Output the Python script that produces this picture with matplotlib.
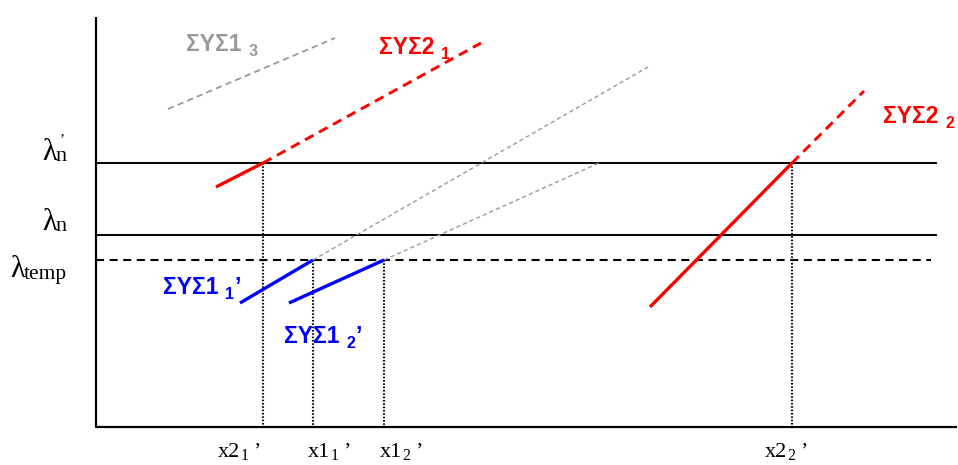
"""Schematic: ΣΥΣ1 / ΣΥΣ2 lines against λ thresholds (pixel-space diagram)."""

import matplotlib

matplotlib.use("Agg")
import matplotlib.pyplot as plt

plt.rcParams["lines.scale_dashes"] = False

# frame (pixel coordinates, y grows downward)
axis_x = [96, 96, 957]
axis_y = [17, 427, 427]

# horizontal threshold levels
lam_n_prime_y = 163
lam_n_y = 235
lam_temp_y = 260
level_x_end = [936, 936, 931]

# ΣΥΣ2_1: solid part then dashed continuation
sys2_1_x = [216, 263, 481]
sys2_1_y = [187, 163, 43]
# ΣΥΣ2_2
sys2_2_x = [650, 792, 864]
sys2_2_y = [307, 163, 91]
# ΣΥΣ1_3 (grey dashed)
sys1_3_x = [168, 335]
sys1_3_y = [109, 38]
# ΣΥΣ1_1' and ΣΥΣ1_2' (blue) with thin grey extensions
sys1_1_x = [240, 313, 648]
sys1_1_y = [303, 260, 67]
sys1_2_x = [289, 384, 599]
sys1_2_y = [303, 260, 163]

# dotted drop lines: x position and top y
drop_x = [263, 313, 384, 792]
drop_top = [163, 260, 260, 163]

# x-axis labels: main digit, subscript, left position
x_main = ["2", "1", "1", "2"]
x_sub = ["1", "1", "2", "2"]
x_left = [218, 308, 380, 765]

RED = "#ff0000"
BLUE = "#0000ff"
GREY = "#999999"

fig = plt.figure(figsize=(9.58, 4.65), dpi=100)
ax = fig.add_axes([0, 0, 1, 1])
ax.set_xlim(0, 958)
ax.set_ylim(465, 0)
ax.axis("off")

ax.plot(axis_x, axis_y, color="black", lw=1.6, solid_capstyle="butt")

levels = [lam_n_prime_y, lam_n_y, lam_temp_y]
for y, xe, dashed in zip(levels, level_x_end, [False, False, True]):
    if dashed:
        ax.plot([96, xe], [y, y], color="black", lw=1.5, dashes=(5.8, 4.0))
    else:
        ax.plot([96, xe], [y, y], color="black", lw=1.4)

for x, top in zip(drop_x, drop_top):
    ax.plot([x, x], [top, 427], color="black", lw=1.5, dashes=(1.1, 1.3))

# grey thin extensions
ax.plot(sys1_1_x[1:], sys1_1_y[1:], color=GREY, lw=1.0, dashes=(3.0, 2.2))
ax.plot(sys1_2_x[1:], sys1_2_y[1:], color=GREY, lw=1.0, dashes=(3.0, 2.2))
ax.plot(sys1_3_x, sys1_3_y, color=GREY, lw=1.3, dashes=(4.5, 3.0))

# blue solid
ax.plot(sys1_1_x[:2], sys1_1_y[:2], color=BLUE, lw=2.4, solid_capstyle="butt")
ax.plot(sys1_2_x[:2], sys1_2_y[:2], color=BLUE, lw=2.4, solid_capstyle="butt")

# red
ax.plot(sys2_1_x[:2], sys2_1_y[:2], color=RED, lw=2.4, solid_capstyle="butt")
ax.plot(sys2_1_x[1:], sys2_1_y[1:], color=RED, lw=2.1, dashes=(7.0, 4.5))
ax.plot(sys2_2_x[:2], sys2_2_y[:2], color=RED, lw=2.4, solid_capstyle="butt")
ax.plot(sys2_2_x[1:], sys2_2_y[1:], color=RED, lw=2.1, dashes=(7.0, 4.5))

renderer = fig.canvas.get_renderer()


def rich(x, y, parts, color="black", family="Liberation Serif", weight="normal"):
    # parts: (string, fontsize, baseline shift in px, gap before in px)
    for s, size, dy, gap in parts:
        x += gap
        t = ax.text(x, y + dy, s, fontsize=size, color=color, family=family,
                    weight=weight, ha="left", va="baseline")
        x += t.get_window_extent(renderer).width


SANS = "Liberation Sans"
rich(186, 51, [("ΣΥΣ1", 16.5, 0, 0), ("3", 11.5, 5, 7)], GREY, SANS, "bold")
rich(379, 54, [("ΣΥΣ2", 16.5, 0, 0), ("1", 11.5, 5, 7)], RED, SANS, "bold")
rich(883, 123, [("ΣΥΣ2", 16.5, 0, 0), ("2", 11.5, 5, 7)], RED, SANS, "bold")
rich(163, 294, [("ΣΥΣ1", 16.5, 0, 0), ("1", 11.5, 5, 7), ("’", 16.5, 0, 0)], BLUE, SANS, "bold")
rich(284, 343, [("ΣΥΣ1", 16.5, 0, 0), ("2", 11.5, 5, 7), ("’", 16.5, 0, 0)], BLUE, SANS, "bold")

for main, sub, x0 in zip(x_main, x_sub, x_left):
    rich(x0, 457, [("x" + main, 16, 0, 0), (sub, 11.5, 3, 0), ("’", 16, 0, 5)])

rich(42, 160, [("λ", 22, 0, 0), ("n", 16, 1, -1)])
ax.text(60, 143, "’", fontsize=11, family="Liberation Serif", ha="left", va="baseline")
rich(42, 230, [("λ", 22, 0, 0), ("n", 16, 1, -1)])
rich(10, 277, [("λ", 22, 0, 0), ("temp", 15.5, 2, -1)])

fig.savefig("out.png", dpi=100)
